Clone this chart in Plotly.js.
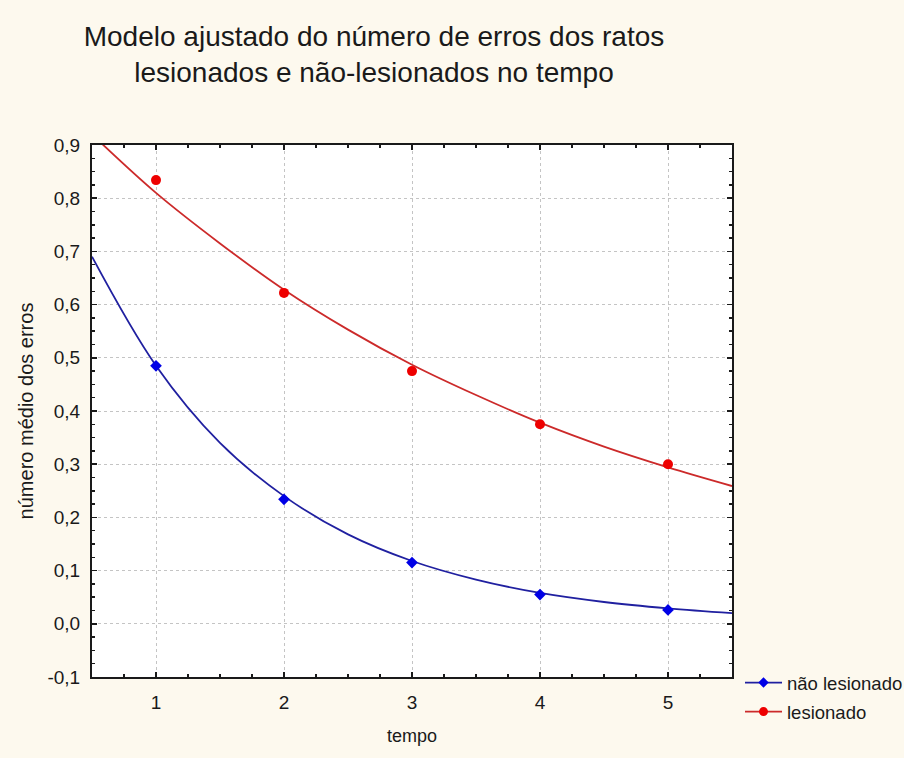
<!DOCTYPE html>
<html>
<head>
<meta charset="utf-8">
<script src="https://cdn.plot.ly/plotly-3.0.1.min.js"></script>
<style>
  html, body { margin: 0; padding: 0; background: #fdf9ee; }
  #chart { width: 904px; height: 758px; }
</style>
</head>
<body>
<div id="chart"></div>
<script>
// ---- data ----
const tempo = [1, 2, 3, 4, 5];
const naoLesionado = [0.485, 0.234, 0.115, 0.055, 0.026];
const lesionado = [0.834, 0.622, 0.475, 0.375, 0.300];

// fitted model curves
const curveX = [0.5, 1, 1.5, 2, 2.5, 3, 3.5, 4, 4.5, 5, 5.5];
const curveNao = [0.69, 0.485, 0.34, 0.24, 0.168, 0.118, 0.083, 0.058, 0.041, 0.029, 0.02];
const curveLes = [0.92, 0.81, 0.715, 0.628, 0.553, 0.487, 0.43, 0.378, 0.333, 0.294, 0.259];

const xTickVals = [1, 2, 3, 4, 5];
const xTickText = ['1', '2', '3', '4', '5'];
const yTickVals = [-0.1, 0, 0.1, 0.2, 0.3, 0.4, 0.5, 0.6, 0.7, 0.8, 0.9];
const yTickText = ['-0,1', '0,0', '0,1', '0,2', '0,3', '0,4', '0,5', '0,6', '0,7', '0,8', '0,9'];

const seriesNames = ['não lesionado', 'lesionado'];

const FONT = 'Liberation Sans, Arial, sans-serif';
const BLUE_LINE = '#2020a0';
const BLUE_MK = '#0000e6';
const RED_LINE = '#cc2a2a';
const RED_MK = '#ee0000';

const traces = [
  { x: curveX, y: curveNao, mode: 'lines', line: { color: BLUE_LINE, width: 1.8, shape: 'spline', smoothing: 1 }, showlegend: false, hoverinfo: 'skip' },
  { x: curveX, y: curveLes, mode: 'lines', line: { color: RED_LINE, width: 1.8, shape: 'spline', smoothing: 1 }, showlegend: false, hoverinfo: 'skip' },
  { x: tempo, y: naoLesionado, mode: 'markers', marker: { symbol: 'diamond', size: 9, color: BLUE_MK }, showlegend: false },
  { x: tempo, y: lesionado, mode: 'markers', marker: { symbol: 'circle', size: 10, color: RED_MK }, showlegend: false },
  // legend entries
  { x: [null], y: [null], name: seriesNames[0], legendgroup: 'a', mode: 'lines+markers',
    line: { color: BLUE_LINE, width: 1.8 }, marker: { symbol: 'diamond', size: 8, color: BLUE_MK } },
  { x: [null], y: [null], name: seriesNames[1], legendgroup: 'b', mode: 'lines+markers',
    line: { color: RED_LINE, width: 1.8 }, marker: { symbol: 'circle', size: 9, color: RED_MK } }
];

const axisCommon = {
  showline: true, linecolor: '#1a1a1a', linewidth: 2, mirror: 'ticks',
  ticks: 'inside', ticklen: 5, tickwidth: 1.5, tickcolor: '#1a1a1a',
  showgrid: true, gridcolor: '#c4c4c4', griddash: 'dot', gridwidth: 1,
  zeroline: false, tickfont: { family: FONT, size: 19, color: '#1a1a1a' }
};

const layout = {
  width: 904, height: 758,
  paper_bgcolor: '#fdf9ee', plot_bgcolor: '#ffffff',
  margin: { l: 92, r: 172, t: 145, b: 81 },
  font: { family: FONT, color: '#1a1a1a' },
  title: {
    text: 'Modelo ajustado do número de erros dos ratos<br>lesionados e não-lesionados no tempo',
    font: { family: FONT, size: 28, color: '#1a1a1a' },
    x: 374 / 904, xanchor: 'center', xref: 'container',
    y: 1 - 46 / 758, yanchor: 'middle', yref: 'container'
  },
  xaxis: Object.assign({}, axisCommon, {
    range: [0.5, 5.5], tickvals: xTickVals, ticktext: xTickText,
    ticklabelstandoff: 7,
    minor: { dtick: 0.25, tick0: 0, ticks: 'inside', ticklen: 3, tickwidth: 1.5, tickcolor: '#1a1a1a', showgrid: false },
    title: { text: 'tempo', font: { family: FONT, size: 18, color: '#1a1a1a' }, standoff: 18 }
  }),
  yaxis: Object.assign({}, axisCommon, {
    range: [-0.1, 0.9], tickvals: yTickVals, ticktext: yTickText,
    ticklabelstandoff: 6,
    minor: { dtick: 0.025, tick0: 0, ticks: 'inside', ticklen: 3, tickwidth: 1.5, tickcolor: '#1a1a1a', showgrid: false },
    title: { text: 'número médio dos erros', font: { family: FONT, size: 20, color: '#1a1a1a' }, standoff: 8 }
  }),
  legend: {
    xref: 'container', yref: 'container',
    x: 740 / 904, xanchor: 'left', y: 1 - 664 / 758, yanchor: 'top',
    bgcolor: 'rgba(0,0,0,0)', borderwidth: 0,
    font: { family: FONT, size: 18.5, color: '#1a1a1a' },
    traceorder: 'grouped', tracegroupgap: 2, itemwidth: 37
  },
  showlegend: true
};

Plotly.newPlot('chart', traces, layout, { staticPlot: true, displayModeBar: false });
</script>
</body>
</html>
